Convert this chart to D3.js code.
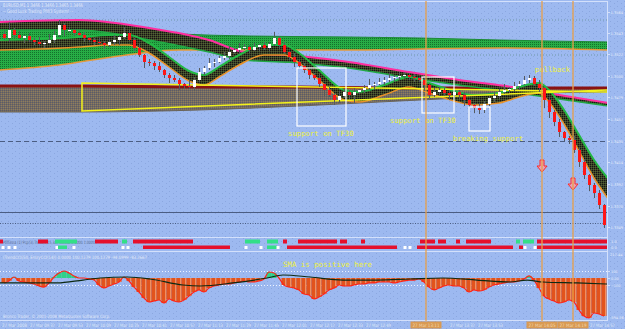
<!DOCTYPE html>
<html>
<head>
<meta charset="utf-8">
<script src="https://cdn.jsdelivr.net/npm/d3@7/dist/d3.min.js"></script>
<style>
  body { margin: 0; background: #9db9f0; }
  svg { display: block; }
</style>
</head>
<body>
<svg id="chart" width="625" height="329"></svg>
<script>
var svg = d3.select('#chart');
var svgWidth = +svg.attr('width');
var svgHeight = +svg.attr('height');

// ---- data ----
var priceTicks = [1.3564, 1.3543, 1.3522, 1.3500, 1.3479, 1.3457, 1.3435, 1.3414, 1.3392, 1.3370, 1.3349];
var firstOpen = 1.3542;
var closes = [
  1.3538, 1.3546, 1.3541, 1.3538, 1.3540, 1.3536, 1.3534, 1.3532, 1.3533, 1.3536,
  1.3541, 1.3551, 1.3546, 1.3546, 1.3543, 1.3541, 1.3538, 1.3536, 1.3534, 1.3533,
  1.3531, 1.3534, 1.3536, 1.3539, 1.3543, 1.3536, 1.3528, 1.3521, 1.3514, 1.3513,
  1.3510, 1.3506, 1.3501, 1.3498, 1.3496, 1.3492, 1.3490, 1.3489, 1.3496, 1.3504,
  1.3508, 1.3513, 1.3514, 1.3518, 1.3520, 1.3524, 1.3526, 1.3528, 1.3529, 1.3526,
  1.3529, 1.3531, 1.3528, 1.3532, 1.3538, 1.3531, 1.3524, 1.3519, 1.3514, 1.3510,
  1.3506, 1.3501, 1.3498, 1.3492, 1.3486, 1.3481, 1.3476, 1.3480, 1.3484, 1.3481,
  1.3484, 1.3486, 1.3488, 1.3491, 1.3492, 1.3494, 1.3496, 1.3498, 1.3499, 1.3500,
  1.3501, 1.3499, 1.3498, 1.3496, 1.3491, 1.3481, 1.3484, 1.3486, 1.3483, 1.3481,
  1.3484, 1.3481, 1.3476, 1.3471, 1.3468, 1.3466, 1.3472, 1.3478, 1.3480, 1.3484,
  1.3486, 1.3487, 1.3490, 1.3492, 1.3496, 1.3498, 1.3492, 1.3488, 1.3476, 1.3464,
  1.3454, 1.3444, 1.3438, 1.3436, 1.3426, 1.3414, 1.3401, 1.3391, 1.3383, 1.3371,
  1.3351
];
// wick lengths in pips above / below the body
var wickUp = [
  3, 8, 2, 4, 1, 3, 2, 5, 2, 6,
  4, 5, 2, 3, 1, 2, 3, 1, 2, 4,
  2, 3, 5, 2, 6, 3, 2, 4, 1, 3,
  2, 4, 1, 2, 3, 2, 1, 6, 3, 4,
  2, 5, 3, 2, 4, 6, 2, 5, 3, 2,
  4, 1, 3, 2, 6, 2, 3, 1, 4, 2,
  3, 1, 2, 4, 1, 3, 2, 5, 3, 2,
  4, 1, 3, 6, 2, 4, 3, 5, 2, 4,
  3, 2, 3, 1, 5, 2, 4, 3, 2, 3,
  1, 2, 3, 1, 2, 5, 3, 2, 4, 3,
  6, 2, 4, 3, 4, 3, 2, 4, 1, 3,
  2, 3, 1, 2, 4, 2, 3, 1, 2, 3,
  1
];
var wickDn = [
  2, 4, 3, 1, 5, 2, 3, 2, 4, 1,
  3, 2, 6, 2, 3, 1, 4, 2, 3, 2,
  4, 2, 3, 5, 2, 1, 3, 2, 6, 3,
  4, 2, 3, 5, 2, 6, 3, 2, 4, 2,
  3, 2, 4, 1, 2, 3, 2, 4, 2, 3,
  1, 4, 2, 3, 2, 4, 2, 3, 5, 2,
  3, 4, 2, 3, 6, 2, 5, 3, 2, 4,
  8, 2, 3, 2, 4, 1, 3, 2, 4, 3,
  2, 3, 4, 2, 6, 3, 2, 4, 3, 5,
  2, 4, 6, 3, 5, 4, 3, 2, 4, 3,
  2, 3, 2, 4, 1, 3, 2, 4, 8, 6,
  4, 5, 3, 4, 3, 5, 4, 6, 5, 4,
  3
];

// slow green band
var slowIdx = [-1, 11, 23, 35, 49, 69, 83, 99, 121];
var slowTop = [1.3550, 1.3550, 1.3546, 1.3542, 1.3540, 1.3539, 1.3538, 1.3536, 1.3534];
var slowBot = [1.3506, 1.3511, 1.3520, 1.3526, 1.3526, 1.3526, 1.3527, 1.3528, 1.3526];

// pink-topped ribbon
var pinkIdx = [-1, 15, 29, 41, 48, 59, 69, 81, 91, 103, 111, 121];
var pinkTop = [1.3554, 1.3556, 1.3548, 1.3536, 1.3524, 1.3520, 1.3514, 1.3504, 1.3496, 1.3488, 1.3481, 1.3473];
var pinkBot = [1.3546, 1.3546, 1.3536, 1.3524, 1.3516, 1.3513, 1.3508, 1.3498, 1.3491, 1.3483, 1.3477, 1.3470];

// medium ribbon following price
var midIdx = [-1, 7, 15, 21, 25, 29, 33, 37, 40, 43, 47, 52, 56, 59, 63, 68, 71, 76, 81, 85, 90, 94, 99, 103, 107, 109, 112, 115, 118, 121];
var midTop = [1.3536, 1.3537, 1.3539, 1.3541, 1.3541, 1.3533, 1.3519, 1.3505, 1.3501, 1.3509,
              1.3521, 1.3531, 1.3531, 1.3523, 1.3506, 1.3486, 1.3484, 1.3491, 1.3499, 1.3493,
              1.3485, 1.3481, 1.3483, 1.3489, 1.3493, 1.3486, 1.3466, 1.3441, 1.3416, 1.3396];
var midBot = [1.3526, 1.3527, 1.3529, 1.3531, 1.3531, 1.3523, 1.3509, 1.3495, 1.3491, 1.3499,
              1.3511, 1.3521, 1.3521, 1.3513, 1.3496, 1.3476, 1.3474, 1.3481, 1.3489, 1.3483,
              1.3475, 1.3471, 1.3473, 1.3479, 1.3483, 1.3474, 1.3452, 1.3425, 1.3398, 1.3376];

// grey/brown horizontal band
var bandIdx = [-1, 15, 39, 59, 79, 95, 107, 121];
var bandTop = [1.3490, 1.3490, 1.3489, 1.3489, 1.3488, 1.3488, 1.3488, 1.3488];
var bandBot = [1.3464, 1.3464, 1.3466, 1.3470, 1.3475, 1.3479, 1.3483, 1.3484];

// drawn objects
var trendIdx = [15.6, 120.6];
var trendTop = [1.3493, 1.3484];
var trendBot = [1.3465, 1.3486];
var boxX0 = [58.6, 83.6, 93.0];
var boxX1 = [68.4, 90.0, 97.2];
var boxTop = [1.3508, 1.3499, 1.3469];
var boxBot = [1.3450, 1.3463, 1.3445];
var noteText = ['support on TF30', 'support on TF30', 'breaking support', 'pullback'];
var noteIdx = [56.8, 77.2, 89.8, 106.2];
var notePrice = [1.3440, 1.3453, 1.3435, 1.3504];
var dottedLevels = [1.3556, 1.3521];
var dashLevel = 1.3435;
var solidLevel = 1.3364;
var lowDotLevel = 1.3353;
var vlineIdx = [84.4, 107.6, 113.8];
var vlineTimes = ['27 Mar 13:11', '27 Mar 14:05', '27 Mar 14:19'];
var arrowIdx = [107.6, 113.8];
var arrowPrice = [1.3416, 1.3398];

// trend dots sub-window: [from bar, to bar, colour code]
var dotsRow1 = [[-0.8, -0.2, 'r'], [6.8, 8.8, 'r'], [10.2, 14.6, 'g'], [18.2, 22.8, 'r'], [23.6, 24.6, 'g'],
  [25.8, 37.8, 'r'], [48.2, 51.2, 'g'], [52.6, 54.8, 'g'], [55.8, 56.6, 'r'], [58.8, 66.6, 'r'],
  [67.2, 68.6, 'r'], [71.4, 72.2, 'r'], [83.2, 86.2, 'r'], [86.8, 88.4, 'r'], [90.4, 91.2, 'r'],
  [92.4, 97.4, 'r'], [102.4, 103.2, 'g'], [103.8, 106.0, 'g'], [106.6, 120.6, 'r']];
var dotsRow2 = [[-0.2, -0.2, 'w'], [1.0, 1.0, 'w'], [2.2, 2.2, 'w'], [10.6, 10.6, 'w'], [10.8, 12.6, 'g'],
  [14.0, 14.0, 'w'], [23.8, 23.8, 'w'], [24.8, 24.8, 'w'], [27.8, 45.2, 'r'], [48.4, 48.4, 'w'],
  [51.4, 51.4, 'w'], [52.6, 54.6, 'g'], [54.8, 54.8, 'w'], [56.6, 78.6, 'r'], [80.2, 80.2, 'w'],
  [81.2, 81.2, 'w'], [82.6, 101.8, 'r'], [103.0, 103.8, 'r'], [104.2, 104.2, 'w'], [106.2, 106.2, 'w'],
  [106.6, 120.6, 'r']];
var dotsTicks = ['1.0', '0.0'];

// CCI sub-window
var cci = [
  -71, -43, 14, -43, -57, -71, -86, -114, -129, -71,
  14, 71, 100, 71, 29, 0, 0, -14, -29, -100,
  -143, -114, -86, -57, 14, -43, -129, -200, -286, -343,
  -329, -314, -357, -300, -329, -343, -314, -257, -200, -171,
  -200, -143, -114, -100, -86, -86, -71, -57, -43, -57,
  -57, -43, -14, 86, 71, 0, -100, -129, -143, -171,
  -229, -243, -300, -271, -229, -171, -143, -100, -114, -114,
  -100, -86, -86, -71, -71, -57, -57, -57, -71, -57,
  -43, -29, -29, -14, -57, -129, -171, -143, -114, -100,
  -114, -114, -143, -200, -171, -186, -171, -129, -100, -86,
  -71, -57, -57, -43, -14, 29, -29, -143, -257, -300,
  -329, -357, -343, -314, -343, -457, -543, -571, -500, -514,
  -543
];
var cciSigIdx = [-1, 5.8, 10.6, 15.8, 19.2, 24.6, 29.2, 35.8, 39.2, 45.8, 52.6, 55.8, 61.2, 67.8, 74.6, 81.2, 87.8, 94.6, 101.2, 104.6, 107.8, 114.6, 120.6];
var cciSigVal = [-71, -71, -71, -29, 0, 14, -14, -100, -114, -71, 0, 43, 14, -29, -29, -14, 0, -29, -57, -29, -57, -71, -86];
var cciTicks = [100, 0, -100];
var cciRange = ['217.44', '-594.56'];

var timeLabels = ['27 Mar 2008', '27 Mar 09:37', '27 Mar 09:53', '27 Mar 10:09', '27 Mar 10:25', '27 Mar 10:41',
  '27 Mar 10:57', '27 Mar 11:13', '27 Mar 11:29', '27 Mar 11:45', '27 Mar 12:01', '27 Mar 12:17',
  '27 Mar 12:33', '27 Mar 12:49', '27 Mar 13:05', '27 Mar 13:21', '27 Mar 13:37', '27 Mar 13:53',
  '27 Mar 14:09', '27 Mar 14:25', '27 Mar 14:41', '27 Mar 14:57'];

// ---- layout ----
var pip = 0.0001;
var plotRight = 607;
var x = d3.scaleLinear().domain([0, 120]).range([4, 604]);
var y = d3.scaleLinear().domain([1.3565, 1.3339]).range([11, 237]);
var cciY = d3.scaleLinear().domain([0, -100]).range([278, 285]);
var timeX = d3.scalePoint().domain(timeLabels).range([2, 590]);
var smallFont = 'DejaVu Sans, sans-serif';
var monoFont = 'DejaVu Sans Mono, monospace';
var axisFontSize = 3.6;

var defs = svg.append('defs');

function makePattern(id, w, h, base, dots) {
  var p = defs.append('pattern').attr('id', id).attr('width', w).attr('height', h)
    .attr('patternUnits', 'userSpaceOnUse');
  p.append('rect').attr('width', w).attr('height', h).attr('fill', base);
  dots.forEach(function(d) {
    p.append('rect').attr('x', d[0]).attr('y', d[1]).attr('width', 1).attr('height', 1).attr('fill', d[2]);
  });
}
makePattern('noise', 7, 5, '#9db9f0', [[1, 1, '#8ba7e0'], [5, 3, '#8ba7e0']]);
makePattern('greenHatch', 2, 2, '#27ad45', [[0, 0, '#14702c']]);
makePattern('darkHatch', 2, 2, '#3b3a2c', [[0, 0, '#15190f'], [1, 1, '#4f6a2e']]);
makePattern('brownHatch', 2, 2, '#766c5e', [[0, 0, '#5a5a6a'], [1, 1, '#8c7c62']]);

svg.append('rect').attr('width', svgWidth).attr('height', svgHeight).attr('fill', 'url(#noise)');

defs.append('clipPath').attr('id', 'mainClip')
  .append('rect').attr('x', 0).attr('y', 1).attr('width', plotRight).attr('height', 236);

var mainG = svg.append('g').attr('clip-path', 'url(#mainClip)');

// level lines
mainG.selectAll('line.dotlevel').data(dottedLevels).enter().append('line')
  .attr('x1', 0).attr('x2', plotRight).attr('y1', d => y(d)).attr('y2', d => y(d))
  .attr('stroke', '#6f97a6').attr('stroke-dasharray', '1,2');
[[dashLevel, '5,3'], [solidLevel, null], [lowDotLevel, '1,1.5']].forEach(function(l) {
  mainG.append('line').attr('x1', 0).attr('x2', plotRight).attr('y1', y(l[0]) + 0.5).attr('y2', y(l[0]) + 0.5)
    .attr('stroke', '#4b5d82').attr('stroke-width', 1).attr('stroke-dasharray', l[1]);
});

function ribbon(idx, top, bot, fill, topColor, topW, botColor, botW) {
  var pts = idx.map(function(d, k) { return {i: d, t: top[k], b: bot[k]}; });
  var area = d3.area().x(d => x(d.i)).y0(d => y(d.b)).y1(d => y(d.t)).curve(d3.curveMonotoneX);
  mainG.append('path').datum(pts).attr('d', area).attr('fill', fill);
  mainG.append('path').datum(pts).attr('fill', 'none').attr('stroke', topColor).attr('stroke-width', topW)
    .attr('d', d3.line().x(d => x(d.i)).y(d => y(d.t)).curve(d3.curveMonotoneX));
  mainG.append('path').datum(pts).attr('fill', 'none').attr('stroke', botColor).attr('stroke-width', botW)
    .attr('d', d3.line().x(d => x(d.i)).y(d => y(d.b)).curve(d3.curveMonotoneX));
}

ribbon(slowIdx, slowTop, slowBot, 'url(#greenHatch)', '#1c8a36', 1, '#e39a3a', 1.5);
ribbon(bandIdx, bandTop, bandBot, 'url(#brownHatch)', '#8a1212', 3, '#6a6458', 1);
ribbon(pinkIdx, pinkTop, pinkBot, 'url(#darkHatch)', '#ff2fa0', 2, '#22a844', 1.5);
ribbon(midIdx, midTop, midBot, 'url(#darkHatch)', '#23b844', 2, '#e8922a', 1.5);

// yellow triangle
var trTop = trendIdx.map((d, k) => [x(d), y(trendTop[k])]);
var trBot = trendIdx.map((d, k) => [x(d), y(trendBot[k])]);
mainG.append('path')
  .attr('d', 'M' + trTop[1] + 'L' + trTop[0] + 'L' + trBot[0] + 'L' + trBot[1])
  .attr('fill', 'none').attr('stroke', '#f2f21c').attr('stroke-width', 1.5);

// candles
var candles = closes.map(function(c, i) {
  var o = i === 0 ? firstOpen : closes[i - 1];
  return {i: i, o: o, c: c, h: Math.max(o, c) + wickUp[i] * pip, l: Math.min(o, c) - wickDn[i] * pip};
});
var candleG = mainG.append('g');
candleG.selectAll('line.wick').data(candles).enter().append('line')
  .attr('x1', d => x(d.i) + 0.5).attr('x2', d => x(d.i) + 0.5)
  .attr('y1', d => y(d.h)).attr('y2', d => y(d.l))
  .attr('stroke', '#555a60').attr('stroke-width', 1);
candleG.selectAll('rect.body').data(candles).enter().append('rect')
  .attr('x', d => x(d.i) - 1)
  .attr('width', 3)
  .attr('y', d => y(Math.max(d.o, d.c)))
  .attr('height', d => Math.max(1, Math.abs(y(d.o) - y(d.c))))
  .attr('fill', d => d.c >= d.o ? '#ffffff' : '#ff1616');

// white boxes
mainG.selectAll('rect.box').data(boxX0).enter().append('rect')
  .attr('x', (d, k) => x(d)).attr('y', (d, k) => y(boxTop[k]))
  .attr('width', (d, k) => x(boxX1[k]) - x(d)).attr('height', (d, k) => y(boxBot[k]) - y(boxTop[k]))
  .attr('fill', 'none').attr('stroke', '#ffffff').attr('stroke-width', 1.2);

// arrows
mainG.selectAll('path.arrow').data(arrowIdx).enter().append('path')
  .attr('transform', (d, k) => 'translate(' + x(d) + ',' + y(arrowPrice[k]) + ')')
  .attr('d', 'M-2,0L2,0L2,6L5,6L0,12L-5,6L-2,6Z')
  .attr('fill', '#e7a3b6').attr('stroke', '#ff2a2a').attr('stroke-width', 1);

// notes
mainG.selectAll('text.note').data(noteText).enter().append('text')
  .attr('x', (d, k) => x(noteIdx[k])).attr('y', (d, k) => y(notePrice[k]))
  .attr('font-family', monoFont).attr('font-size', 7.3).attr('fill', '#eef03a')
  .text(d => d);

// header texts
var hdr = svg.append('g').attr('font-family', smallFont).attr('font-size', 5).attr('fill', '#e2e9f8');
hdr.append('text').attr('x', 3).attr('y', 7).attr('textLength', 80).attr('lengthAdjust', 'spacingAndGlyphs')
  .text('EURUSD,M1  1.3466 1.3466 1.3465 1.3466');
hdr.append('text').attr('x', 3).attr('y', 13).attr('textLength', 70).attr('lengthAdjust', 'spacingAndGlyphs')
  .text('-- Good Luck Trading Pfifi3 System! --');

// ---- frames ----
var frameColor = '#d3e0fb';
[1.5, 237.5, 251.5, 320.5].forEach(function(v) {
  svg.append('line').attr('x1', 0).attr('x2', plotRight + 1).attr('y1', v).attr('y2', v)
    .attr('stroke', frameColor).attr('stroke-width', 1);
});
svg.append('line').attr('x1', plotRight + 0.5).attr('x2', plotRight + 0.5).attr('y1', 1).attr('y2', 321)
  .attr('stroke', frameColor);

// price axis
var yAxis = d3.axisRight(y).tickValues(priceTicks).tickSize(3).tickFormat(d3.format('.4f'));
var yAxisG = svg.append('g').attr('transform', 'translate(' + plotRight + ',0)').call(yAxis);
yAxisG.select('.domain').remove();
yAxisG.selectAll('line').attr('stroke', frameColor);
yAxisG.selectAll('text').attr('font-family', smallFont).attr('font-size', axisFontSize)
  .attr('fill', '#e4ebfa').attr('x', 3.5);

// ---- trend dots sub-window ----
var dotColor = {r: '#e5102c', g: '#33df88', w: '#ffffff'};
var subG = svg.append('g');
subG.append('text').attr('x', 3).attr('y', 243.5).attr('font-family', smallFont).attr('font-size', 4.5)
  .attr('fill', '#5a6c8e').attr('textLength', 92).attr('lengthAdjust', 'spacingAndGlyphs')
  .text('Pfifi3ma (1) Pcp(3) Trend(5,15,30) 1.0000 0.0000 1.0000');
function drawRow(rows, top, h) {
  subG.selectAll(null).data(rows).enter().append('rect')
    .attr('x', d => d[2] === 'w' ? x(d[0]) - 1.5 : x(d[0]))
    .attr('y', d => d[2] === 'w' ? top + 0.5 : top)
    .attr('width', d => d[2] === 'w' ? 3 : Math.max(2, x(d[1]) - x(d[0])))
    .attr('height', d => d[2] === 'w' ? 3 : h)
    .attr('fill', d => dotColor[d[2]]);
}
drawRow(dotsRow1, 239.5, 4);
drawRow(dotsRow2, 245.5, 3.5);
svg.append('g').attr('font-family', smallFont).attr('font-size', axisFontSize).attr('fill', '#e4ebfa')
  .selectAll('text').data(dotsTicks).enter().append('text')
  .attr('x', 611).attr('y', (d, k) => 243 + k * 6).text(d => d);

// ---- CCI sub-window ----
var cciG = svg.append('g');
cciG.append('text').attr('x', 3).attr('y', 259).attr('font-family', smallFont).attr('font-size', 4.5)
  .attr('fill', '#e2e9f8').attr('textLength', 144).attr('lengthAdjust', 'spacingAndGlyphs')
  .text('(TrendCCI(50, EntryCCI(14)) 0.0000 100.1279 100.1279 -94.0999 -83.2667');
cciG.append('text').attr('x', 283).attr('y', 267).attr('font-family', monoFont).attr('font-size', 7.4)
  .attr('fill', '#eef03a').text('SMA is positive here');
cciTicks.filter(d => d !== 0).forEach(function(v) {
  cciG.append('line').attr('x1', 0).attr('x2', plotRight).attr('y1', cciY(v) + 0.5).attr('y2', cciY(v) + 0.5)
    .attr('stroke', '#eef3ff').attr('stroke-dasharray', '1,2');
});
var cciData = cci.map((v, i) => ({i: i, v: v}));
cciG.selectAll('rect.bar').data(cciData).enter().append('rect')
  .attr('x', d => x(d.i) - 2.5).attr('width', 5)
  .attr('y', d => Math.min(cciY(0), cciY(d.v)))
  .attr('height', d => Math.abs(cciY(d.v) - cciY(0)))
  .attr('fill', d => d.v >= 0 ? '#2fd08a' : '#e2531d');
cciG.selectAll('line.stripe').data(cciData.filter(d => d.v < 0)).enter().append('line')
  .attr('x1', d => x(d.i) + 1.5).attr('x2', d => x(d.i) + 1.5)
  .attr('y1', cciY(0)).attr('y2', d => cciY(d.v))
  .attr('stroke', '#f5a070').attr('stroke-width', 0.8);
cciG.append('path').datum(cciData)
  .attr('d', d3.line().x(d => x(d.i)).y(d => cciY(d.v)).curve(d3.curveMonotoneX))
  .attr('fill', 'none').attr('stroke', '#ff2418').attr('stroke-width', 1.2);
cciG.append('path').datum(cciSigIdx.map((d, k) => ({i: d, v: cciSigVal[k]})))
  .attr('d', d3.line().x(d => x(d.i)).y(d => cciY(d.v)).curve(d3.curveMonotoneX))
  .attr('fill', 'none').attr('stroke', '#0d2a12').attr('stroke-width', 1.2);
var cciAxis = d3.axisRight(cciY).tickValues(cciTicks).tickSize(3)
  .tickFormat(d => d === 0 ? '0.00' : d3.format('d')(d));
var cciAxisG = svg.append('g').attr('transform', 'translate(' + plotRight + ',0)').call(cciAxis);
cciAxisG.select('.domain').remove();
cciAxisG.selectAll('line').attr('stroke', frameColor);
cciAxisG.selectAll('text').attr('font-family', smallFont).attr('font-size', 3.4).attr('fill', '#e4ebfa').attr('x', 4);
svg.append('g').attr('font-family', smallFont).attr('font-size', axisFontSize).attr('fill', '#e4ebfa')
  .selectAll('text').data(cciRange).enter().append('text')
  .attr('x', 610).attr('y', (d, k) => k === 0 ? 256 : 319).text(d => d);
cciG.append('text').attr('x', 3).attr('y', 318).attr('font-family', smallFont).attr('font-size', 4.5)
  .attr('fill', '#e2e9f8').attr('textLength', 107).attr('lengthAdjust', 'spacingAndGlyphs')
  .text('Bronco Trader, \u00a9 2001-2008 MetaQuotes Software Corp.');

// ---- vertical lines through all windows ----
svg.selectAll('line.vline').data(vlineIdx).enter().append('line')
  .attr('x1', d => x(d)).attr('x2', d => x(d)).attr('y1', 1).attr('y2', 321)
  .attr('stroke', '#e8a04a').attr('stroke-width', 1.3);

// ---- time axis ----
var boxHalf = 15.5;
function underBox(px) {
  return vlineIdx.some(v => px + 25 > x(v) - boxHalf && px < x(v) + boxHalf);
}
var tG = svg.append('g').attr('font-family', smallFont).attr('font-size', 4.6).attr('fill', '#dfe7f7');
tG.selectAll('text').data(timeLabels.filter(d => !underBox(timeX(d)))).enter().append('text')
  .attr('x', d => timeX(d)).attr('y', 327).attr('textLength', 25).attr('lengthAdjust', 'spacingAndGlyphs')
  .text(d => d);
var vt = svg.append('g');
vt.selectAll('rect').data(vlineIdx).enter().append('rect')
  .attr('x', d => x(d) - boxHalf).attr('y', 321.5).attr('width', boxHalf * 2).attr('height', 7)
  .attr('fill', '#d99a52');
vt.selectAll('text').data(vlineIdx).enter().append('text')
  .attr('x', d => x(d) - 13.5).attr('y', 327).attr('font-family', smallFont).attr('font-size', 4.6)
  .attr('fill', '#f3d8b0').attr('textLength', 27).attr('lengthAdjust', 'spacingAndGlyphs')
  .text((d, k) => vlineTimes[k]);
</script>
</body>
</html>
